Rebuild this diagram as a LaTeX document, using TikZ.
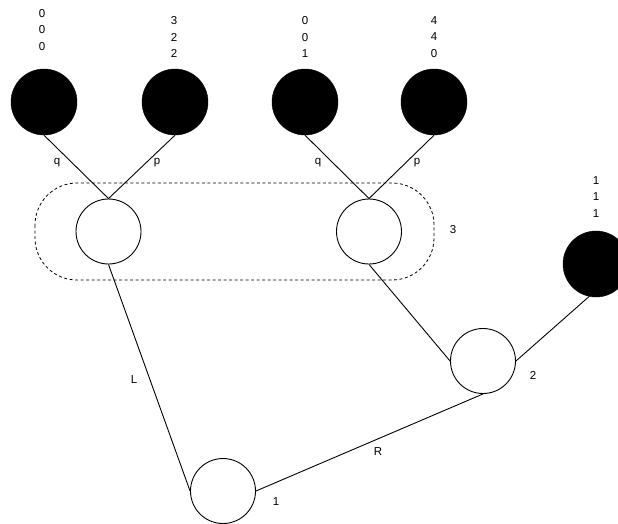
\documentclass[tikz,border=0pt]{standalone}
\usepackage{fontspec}
\setmainfont{Liberation Sans}
\begin{document}
\begin{tikzpicture}[x=1pt,y=-1pt,
  leaf/.style={circle,fill=black,draw=black,minimum size=66pt,inner sep=0pt},
  chance/.style={circle,draw=black,fill=white,line width=0.9pt,minimum size=65pt,inner sep=0pt},
  lbl/.style={font=\fontsize{11.5}{16.7}\selectfont,inner sep=0pt},
  vals/.style={font=\fontsize{11.5}{16.7}\selectfont,inner sep=0pt,align=center},
  edge/.style={line width=0.9pt},
  infoset/.style={draw,dash pattern=on 3pt off 2.5pt,line width=0.8pt,rounded corners=42pt}]
\useasboundingbox (0,0) rectangle (618,523);
% information set
\draw[infoset] (35,183) rectangle (434,280);
% leaves
\node[leaf] (b1) at (44,102) {};
\node[leaf] (b2) at (175,102) {};
\node[leaf] (b3) at (305,102) {};
\node[leaf] (b4) at (434,102) {};
\node[leaf] (b5) at (596,264) {};
% decision nodes
\node[chance] (w1) at (108.5,231.5) {};
\node[chance] (w2) at (369,231.5) {};
\node[chance] (n2) at (483,361) {};
\node[chance] (n1) at (223,491) {};
% payoffs
\node[vals] (v1) at (42,30) {0\\0\\0};
\node[vals] (v2) at (174,37) {3\\2\\2};
\node[vals] (v3) at (305,37) {0\\0\\1};
\node[vals] (v4) at (434,37) {4\\4\\0};
\node[vals] (v5) at (596,197) {1\\1\\1};
% edges
\draw[edge] (b1.south) -- (w1.north);
\draw[edge] (b2.south) -- (w1.north);
\draw[edge] (b3.south) -- (w2.north);
\draw[edge] (b4.south) -- (w2.north);
\draw[edge] (w1.south) -- (n1.west);
\draw[edge] (n1.east) -- (n2.south);
\draw[edge] (w2.south) -- (n2.west);
\draw[edge] (n2.east) -- (b5.258);
% labels
\node[lbl] (lq1) at (57,163) {q};
\node[lbl] (lp1) at (157,163) {p};
\node[lbl] (lq2) at (318,163) {q};
\node[lbl] (lp2) at (417,163) {p};
\node[lbl] (lL) at (134,380) {L};
\node[lbl] (lR) at (378,452) {R};
\node[lbl] (l3) at (453,230) {3};
\node[lbl] (l2) at (533,375) {2};
\node[lbl] (l1) at (276,502) {1};
\end{tikzpicture}
\end{document}
